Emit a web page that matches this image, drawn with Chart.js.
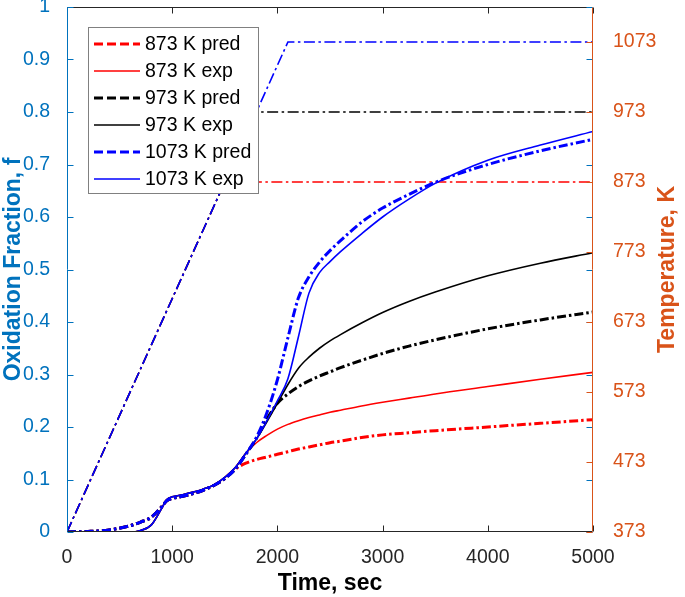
<!DOCTYPE html>
<html>
<head>
<meta charset="utf-8">
<script src="https://cdn.jsdelivr.net/npm/chart.js@4.4.1/dist/chart.umd.min.js"></script>
<style>
html,body{margin:0;padding:0;background:#fff;}
canvas{display:block;}
</style>
</head>
<body>
<canvas id="c" width="685" height="597"></canvas>
<script>
// ---------- data ----------
const timeSec = [0,200,400,600,700,800,900,950,1000,1100,1200,1300,1400,1500,1600,1700,1800,1900,2000,2100,2200,2300,2400,2500,2600,2800,3000,3250,3500,4000,4500,5000];

const pred873 = [0,0.001,0.004,0.012,0.019,0.028,0.048,0.060,0.064,0.068,0.073,0.080,0.089,0.102,0.120,0.131,0.138,0.143,0.148,0.153,0.158,0.162,0.166,0.170,0.173,0.180,0.185,0.189,0.193,0.200,0.207,0.214];
const exp873  = [0,0,0,0,0.003,0.013,0.045,0.062,0.067,0.071,0.076,0.082,0.090,0.104,0.123,0.150,0.170,0.184,0.196,0.205,0.212,0.218,0.223,0.228,0.232,0.240,0.247,0.255,0.263,0.277,0.291,0.304];
const pred973 = [0,0.001,0.004,0.012,0.019,0.028,0.048,0.060,0.064,0.068,0.073,0.080,0.089,0.102,0.120,0.148,0.178,0.215,0.245,0.263,0.277,0.288,0.297,0.305,0.313,0.327,0.340,0.354,0.366,0.387,0.404,0.419];
const exp973  = [0,0,0,0,0.003,0.013,0.045,0.062,0.067,0.071,0.076,0.082,0.090,0.104,0.123,0.150,0.177,0.210,0.245,0.281,0.312,0.333,0.350,0.364,0.376,0.398,0.418,0.439,0.457,0.488,0.512,0.532];
const pred1073 = [0,0.001,0.004,0.012,0.019,0.028,0.048,0.060,0.064,0.068,0.073,0.080,0.089,0.102,0.120,0.148,0.180,0.227,0.290,0.370,0.446,0.486,0.514,0.536,0.555,0.590,0.617,0.643,0.666,0.700,0.726,0.748];
const exp1073  = [0,0,0,0,0.003,0.013,0.045,0.062,0.067,0.071,0.076,0.082,0.090,0.104,0.123,0.150,0.177,0.212,0.250,0.292,0.372,0.455,0.494,0.515,0.534,0.568,0.600,0.634,0.664,0.708,0.737,0.763];

// furnace temperature programmes (right axis)
const tempTime873 = [0,1500,5000];   const temp873 = [373,873,873];
const tempTime973 = [0,1800,5000];   const temp973 = [373,973,973];
const tempTime1073 = [0,2100,5000];  const temp1073 = [373,1073,1073];

const xTickValues = [0,1000,2000,3000,4000,5000];
const yTickValues = [0,0.1,0.2,0.3,0.4,0.5,0.6,0.7,0.8,0.9,1];
const y2TickValues = [373,473,573,673,773,873,973,1073];

const legendLabels = ['873 K pred','873 K exp','973 K pred','973 K exp','1073 K pred','1073 K exp'];

// ---------- styling ----------
const FONT = '"Liberation Sans", Arial, Helvetica, sans-serif';
const BLUE_AX = '#0072BD';
const ORANGE_AX = '#D95319';
const AX = '#262626';
const PRED_DASH = [9,3,2.5,3];
const TEMP_DASH = [11,3.5,2.5,3.5];

function pts(xs, ys){ return xs.map((x,i)=>({x:x, y:ys[i]})); }

const seriesDefs = [
  {label:legendLabels[0], data:pred873, color:'#FF0000', pred:true},
  {label:legendLabels[1], data:exp873,  color:'#FF0000', pred:false},
  {label:legendLabels[2], data:pred973, color:'#000000', pred:true},
  {label:legendLabels[3], data:exp973,  color:'#000000', pred:false},
  {label:legendLabels[4], data:pred1073, color:'#0000FF', pred:true},
  {label:legendLabels[5], data:exp1073,  color:'#0000FF', pred:false},
];

const datasets = [];
seriesDefs.forEach((s, i) => {
  datasets.push({
    label: s.label,
    data: pts(timeSec, s.data),
    borderColor: s.color,
    borderWidth: s.pred ? 3 : 1.6,
    borderDash: s.pred ? PRED_DASH : [],
    pointRadius: 0,
    fill: false,
    cubicInterpolationMode: 'monotone',
    yAxisID: 'y',
    order: 10 - i
  });
});
[[tempTime873,temp873,'#FF0000'],[tempTime973,temp973,'#000000'],[tempTime1073,temp1073,'#0000FF']].forEach((t, i) => {
  datasets.push({
    label: 'T' + i,
    data: pts(t[0], t[1]),
    borderColor: t[2],
    borderWidth: 1.6,
    borderDash: TEMP_DASH,
    pointRadius: 0,
    fill: false,
    tension: 0,
    yAxisID: 'y2',
    order: 20 - i
  });
});

// ---------- plugins ----------
const axesPlugin = {
  id: 'axesBox',
  afterDatasetsDraw(chart) {
    const {ctx, chartArea: ca, scales} = chart;
    const L = Math.round(ca.left) + 0.5, R = Math.round(ca.right) - 0.5;
    const T = Math.round(ca.top) + 0.5, B = Math.round(ca.bottom) - 0.5;
    const tl = 6;
    ctx.save();
    ctx.lineWidth = 1;
    ctx.setLineDash([]);
    ctx.strokeStyle = AX;
    ctx.beginPath();
    ctx.moveTo(L, T); ctx.lineTo(R, T);
    ctx.moveTo(L, B); ctx.lineTo(R, B);
    xTickValues.forEach(v => {
      const px = Math.round(scales.x.getPixelForValue(v)) + 0.5;
      ctx.moveTo(px, B); ctx.lineTo(px, B - tl);
      ctx.moveTo(px, T); ctx.lineTo(px, T + tl);
    });
    ctx.stroke();
    ctx.strokeStyle = BLUE_AX;
    ctx.beginPath();
    ctx.moveTo(L, T); ctx.lineTo(L, B);
    yTickValues.forEach(v => {
      const py = Math.round(scales.y.getPixelForValue(v)) + 0.5;
      ctx.moveTo(L, py); ctx.lineTo(L + tl, py);
      ctx.moveTo(R, py); ctx.lineTo(R - tl, py);
    });
    ctx.stroke();
    ctx.strokeStyle = ORANGE_AX;
    ctx.beginPath();
    ctx.moveTo(R, T); ctx.lineTo(R, B);
    y2TickValues.forEach(v => {
      const py = Math.round(scales.y2.getPixelForValue(v)) + 0.5;
      ctx.moveTo(R, py); ctx.lineTo(R - tl, py);
    });
    ctx.stroke();
    ctx.restore();
  },
  afterDraw(chart) {
    const {ctx, chartArea: ca} = chart;
    ctx.save();
    ctx.translate(668, (ca.top + ca.bottom) / 2);
    ctx.rotate(-Math.PI / 2);
    ctx.fillStyle = ORANGE_AX;
    ctx.font = 'bold 23px ' + FONT;
    ctx.textAlign = 'center';
    ctx.textBaseline = 'middle';
    ctx.fillText('Temperature, K', 0, 0);
    ctx.restore();

    ctx.save();
    const bx = 88.5, by = 27.5, bw = 170, bh = 166;
    ctx.fillStyle = '#FFFFFF';
    ctx.fillRect(bx, by, bw, bh);
    ctx.strokeStyle = '#808080';
    ctx.lineWidth = 1;
    ctx.strokeRect(bx, by, bw, bh);
    ctx.font = '19.5px ' + FONT;
    ctx.textBaseline = 'middle';
    ctx.textAlign = 'left';
    const rowY = [44, 71, 98, 125, 152, 179];
    seriesDefs.forEach((s, i) => {
      const y = rowY[i];
      ctx.beginPath();
      ctx.strokeStyle = s.color;
      ctx.lineWidth = s.pred ? 3 : 1.6;
      ctx.setLineDash(s.pred ? [9,4] : []);
      ctx.moveTo(94, y); ctx.lineTo(140, y);
      ctx.stroke();
      ctx.setLineDash([]);
      ctx.fillStyle = '#000000';
      ctx.fillText(s.label, 145, y + 1);
    });
    ctx.restore();
  }
};

function fixV(w){ return s => { s.width = w; s.paddingTop = 0; s.paddingBottom = 0; }; }

new Chart(document.getElementById('c'), {
  type: 'line',
  data: { datasets },
  options: {
    responsive: false,
    animation: false,
    devicePixelRatio: 1,
    layout: { autoPadding: false, padding: { top: 7, left: 0, right: 0, bottom: 0 } },
    plugins: { legend: { display: false }, tooltip: { enabled: false } },
    scales: {
      x: {
        type: 'linear', min: 0, max: 5000,
        afterBuildTicks: s => { s.ticks = xTickValues.map(v => ({value: v})); },
        afterFit: s => { s.height = 65; s.paddingLeft = 0; s.paddingRight = 0; },
        grid: { display: false }, border: { display: false },
        ticks: { color: AX, font: { family: FONT, size: 19.5 }, padding: 6, maxRotation: 0,
                 callback: v => String(v) },
        title: { display: true, text: 'Time, sec', color: '#000', font: { family: FONT, size: 23, weight: 'bold' }, padding: 0 }
      },
      y: {
        type: 'linear', position: 'left', min: 0, max: 1,
        afterBuildTicks: s => { s.ticks = yTickValues.map(v => ({value: v})); },
        afterFit: fixV(67),
        grid: { display: false }, border: { display: false },
        ticks: { color: BLUE_AX, font: { family: FONT, size: 19.5 }, padding: 9,
                 callback: v => String(+Number(v).toFixed(1)) },
        title: { display: true, text: 'Oxidation Fraction, f', color: BLUE_AX, font: { family: FONT, size: 23, weight: 'bold' }, padding: 0 }
      },
      y2: {
        type: 'linear', position: 'right', min: 373, max: 1123,
        afterBuildTicks: s => { s.ticks = y2TickValues.map(v => ({value: v})); },
        afterFit: fixV(92),
        grid: { display: false }, border: { display: false },
        ticks: { color: ORANGE_AX, font: { family: FONT, size: 19.5 }, padding: 12,
                 callback: v => String(v) }
      }
    }
  },
  plugins: [axesPlugin]
});
</script>
</body>
</html>
